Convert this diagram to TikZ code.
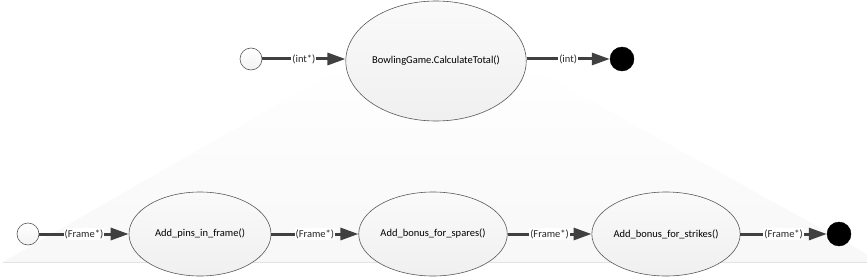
\documentclass[tikz,border=0pt]{standalone}
\usepackage{fontspec}
\setmainfont{Carlito}
\usepackage{tikz}
\usetikzlibrary{arrows.meta,shapes.geometric}

\begin{document}
\begin{tikzpicture}[
  x=1pt, y=-1pt,
  font=\fontsize{10.5}{12}\selectfont,
  func/.style={ellipse, draw=black!65, line width=0.6pt, top color=gray!4, bottom color=gray!12, inner sep=0pt},
  startpt/.style={circle, draw=black!65, line width=0.6pt, top color=white, bottom color=gray!10, minimum size=22pt, inner sep=0pt},
  endpt/.style={circle, draw=black, fill=black, minimum size=24pt, inner sep=0pt},
  flow/.style={-{Triangle[length=18pt, width=12pt]}, line width=3pt, black!75},
  lbl/.style={fill=white, inner sep=1pt, text=black!85}
]
\useasboundingbox (0,0) rectangle (867,278);
% fan behind the lower row
\shade[top color=white, bottom color=gray!6] (351,62) -- (521,62) -- (867,254) -- (867,262) -- (3,262) -- cycle;
\draw[gray!22, line width=1pt] (3,262) -- (867,262);
% top row
\node[startpt] (topin) at (251,59) {};
\node[func, minimum width=170pt, minimum height=120pt] (total) at (436,61) {BowlingGame.CalculateTotal()};
\node[endpt] (topout) at (622,59) {};
% bottom row
\node[startpt] (lowin) at (28,234) {};
\node[func, minimum width=142pt, minimum height=84pt] (pins) at (200,234) {Add\_pins\_in\_frame()};
\node[func, minimum width=142pt, minimum height=84pt] (spares) at (433,234) {Add\_bonus\_for\_spares()};
\node[func, minimum width=142pt, minimum height=84pt] (strikes) at (666,234) {Add\_bonus\_for\_strikes()};
\node[endpt] (lowout) at (839,234) {};
% arrows
\draw[flow] (topin.east) -- node[lbl] {(int*)} (topin.east -| total.west);
\draw[flow] (topin.east -| total.east) -- node[lbl] {(int)} (topout.west);
\draw[flow] (lowin) -- node[lbl] {(Frame*)} (pins);
\draw[flow] (pins) -- node[lbl] {(Frame*)} (spares);
\draw[flow] (spares) -- node[lbl] {(Frame*)} (strikes);
\draw[flow] (strikes) -- node[lbl] {(Frame*)} (lowout);
\end{tikzpicture}
\end{document}
